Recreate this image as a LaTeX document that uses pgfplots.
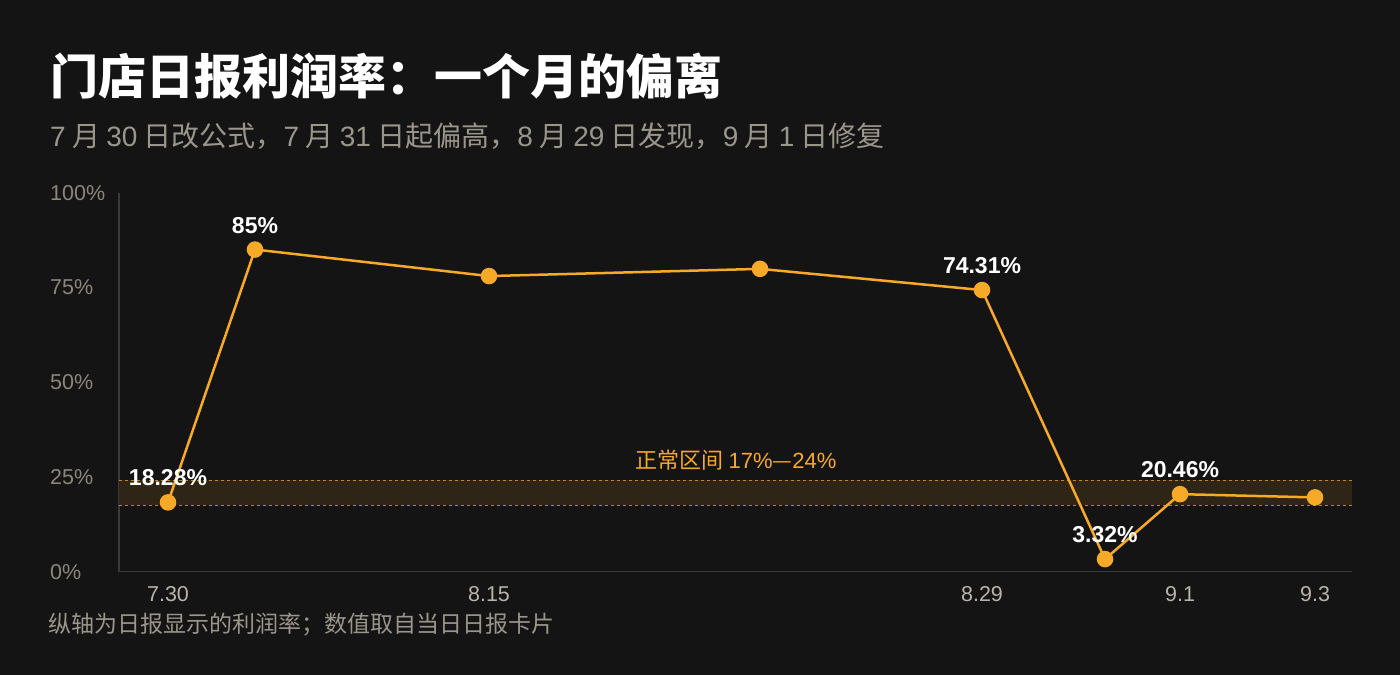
\documentclass[border=0pt]{standalone}
\usepackage{fontspec}
\setmainfont{Noto Sans CJK SC}
\newfontfamily\lat{Liberation Sans}
\usepackage{pgfplots}
\pgfplotsset{compat=1.18}
\definecolor{bg}{HTML}{141414}
\definecolor{lineor}{HTML}{F7A928}
\definecolor{band}{HTML}{2F2517}
\definecolor{ytc}{HTML}{8C877C}
\definecolor{xtc}{HTML}{B8B4AC}
\definecolor{subc}{HTML}{9B968B}
\definecolor{axc}{HTML}{3A3A3A}

\pgfplotstableread{
x y lab
168 18.28 18.28\%
255 85 85\%
489 78.0 {}
760 79.9 {}
982 74.31 74.31\%
1105 3.32 3.32\%
1180 20.46 20.46\%
1315 19.6 {}
}\profit

\begin{document}
\begin{tikzpicture}[x=1bp,y=1bp]
\useasboundingbox (0,0) rectangle (1400,675);
\fill[bg] (0,0) rectangle (1400,675);
\node[anchor=base west, inner sep=0pt, text=white, font=\fontsize{48bp}{52bp}\selectfont\bfseries] at (50,580) {门店日报利润率：一个月的偏离};
\node[anchor=base west, inner sep=0pt, text=subc, font=\fontsize{28bp}{32bp}\selectfont] at (50,528) {{\lat 7} 月 {\lat 30} 日改公式，{\lat 7} 月 {\lat 31} 日起偏高，{\lat 8} 月 {\lat 29} 日发现，{\lat 9} 月 {\lat 1} 日修复};
\node[anchor=base west, inner sep=0pt, text=subc, font=\fontsize{23bp}{27bp}\selectfont] at (48,42) {纵轴为日报显示的利润率；数值取自当日日报卡片};

\begin{axis}[
  at={(119bp,103.3bp)}, anchor=south west,
  scale only axis, width=1233bp, height=379bp,
  xmin=119, xmax=1352, ymin=0, ymax=100,
  axis x line=bottom, axis y line=left,
  axis line style={draw=axc, line width=1.5bp, -},
  xtick={168,489,982,1180,1315},
  xticklabels={7.30,8.15,8.29,9.1,9.3},
  ytick={0,25,50,75,100},
  yticklabels={0\%,25\%,50\%,75\%,100\%},
  major tick length=0pt,
  tick style={draw=none},
  xticklabel style={text=xtc, font=\fontsize{21.5bp}{24bp}\selectfont\lat, inner sep=0pt, anchor=north, yshift=-15bp},
  yticklabel style={text=ytc, font=\fontsize{21.5bp}{24bp}\selectfont\lat, inner sep=0pt, anchor=west, xshift=-69bp},
  clip=false,
]
\addplot[draw=none, fill=band] coordinates {(119,17.5) (1352,17.5) (1352,24.2) (119,24.2)} -- cycle;
\addplot[lineor, opacity=0.75, line width=0.8bp, dash pattern=on 3bp off 3bp] coordinates {(119,24.2) (1352,24.2)};
\addplot[lineor, opacity=0.75, line width=0.8bp, dash pattern=on 3bp off 3bp] coordinates {(119,17.5) (1352,17.5)};
\node[text=lineor, font=\fontsize{22bp}{26bp}\selectfont, anchor=base, inner sep=0pt] at (axis cs:736,27.1) {正常区间 {\lat 17\%}—{\lat 24\%}};
\addplot[lineor, line width=2.5bp, mark=*, mark size=7bp,
  mark options={draw=none, fill=lineor},
  point meta=explicit symbolic,
  nodes near coords,
  every node near coord/.style={text=white, font=\fontsize{23bp}{26bp}\selectfont\lat\bfseries, anchor=base, inner sep=0pt, yshift=16.5bp},
] table[x=x, y=y, meta=lab] {\profit};
\end{axis}
\end{tikzpicture}
\end{document}
